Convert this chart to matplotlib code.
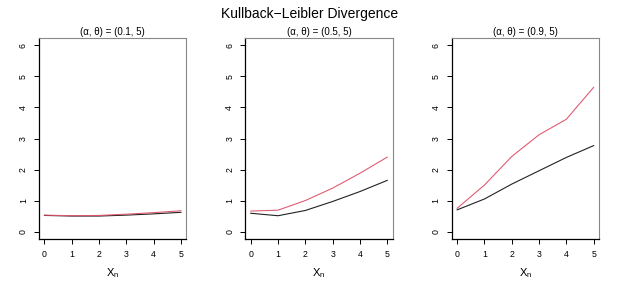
import matplotlib
matplotlib.use("Agg")
import matplotlib.pyplot as plt

plt.rcParams['font.family'] = ['Liberation Sans', 'DejaVu Sans']

x = [0, 1, 2, 3, 4, 5]
titles = ["(α, θ) = (0.1, 5)", "(α, θ) = (0.5, 5)", "(α, θ) = (0.9, 5)"]
black_series = [
    [0.52, 0.50, 0.50, 0.53, 0.57, 0.62],
    [0.59, 0.51, 0.68, 0.97, 1.29, 1.65],
    [0.70, 1.05, 1.53, 1.96, 2.39, 2.77],
]
pink_series = [
    [0.53, 0.51, 0.52, 0.56, 0.61, 0.67],
    [0.66, 0.69, 1.00, 1.40, 1.88, 2.40],
    [0.75, 1.50, 2.42, 3.12, 3.62, 4.65],
]
yticks = [0, 1, 2, 3, 4, 5, 6]
xticks = [0, 1, 2, 3, 4, 5]

fig = plt.figure(figsize=(6.19, 2.88), dpi=100)
lefts = [39 / 619, 245.3 / 619, 451.7 / 619]
W = 147.4 / 619
B = 1 - 239 / 288
H = (239 - 38) / 288

for i in range(3):
    ax = fig.add_axes([lefts[i], B, W, H])
    ax.plot(x, black_series[i], color='#222222', lw=0.8)
    ax.plot(x, pink_series[i], color='#DF536B', lw=0.75)
    ax.set_xlim(-0.2, 5.2)
    ax.set_ylim(-0.24, 6.24)
    ax.set_xticks(xticks)
    ax.set_yticks(yticks)
    ax.tick_params(axis='both', labelsize=6.3, length=3.5, width=0.7, pad=4.5)
    for lab in ax.get_yticklabels():
        lab.set_rotation(90)
        lab.set_va('center')
    for s in ['top', 'right']:
        ax.spines[s].set_color('#888888')
        ax.spines[s].set_linewidth(0.8)
    for s in ['left', 'bottom']:
        ax.spines[s].set_color('black')
        ax.spines[s].set_linewidth(0.9)
    ax.set_title(titles[i], fontsize=7, pad=2)
    ax.set_xlabel("X$_\\mathregular{n}$", fontsize=8, labelpad=5)

fig.text(0.5, 1 - 14 / 288, "Kullback\u2212Leibler Divergence", ha='center', va='center', fontsize=10)
fig.savefig("out.png", dpi=100)
